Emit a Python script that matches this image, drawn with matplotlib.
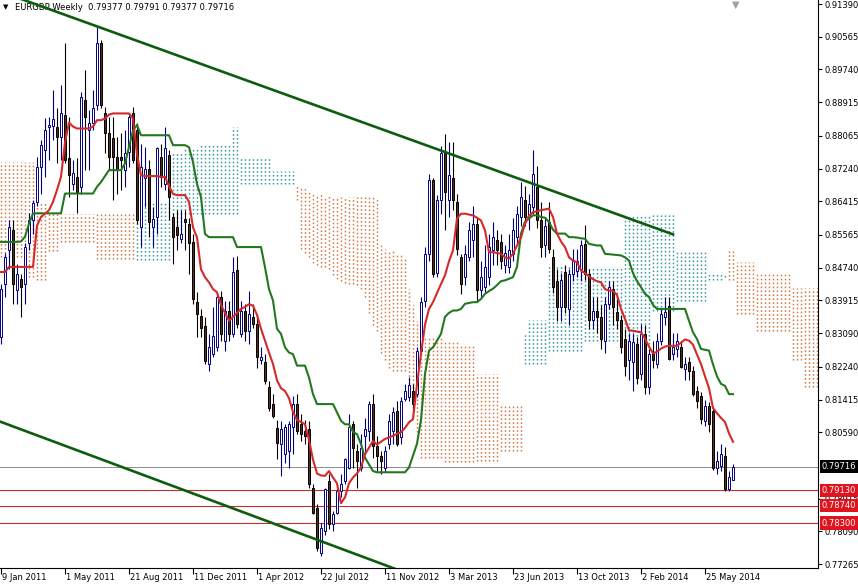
import numpy as np
import matplotlib
matplotlib.use('Agg')
import matplotlib.pyplot as plt

plt.rcParams['font.family'] = ['DejaVu Sans']

###################################################
# EURGBP weekly bars from 9 Jan 2011, prices in 1/10000
###################################################

opens = [8300, 8434, 8518, 8569, 8417, 8446, 8434, 8535, 8594, 8640,
         8729, 8771, 8828, 8831, 8829, 8804, 8860, 8750, 8686, 8703,
         8678, 8897, 8821, 8838, 8884, 9040, 8863, 8813, 8800, 8754,
         8754, 8720, 8766, 8863, 8821, 8577, 8699, 8724, 8577, 8602,
         8754, 8686, 8758, 8602, 8577, 8547, 8598, 8584, 8538, 8387,
         8353, 8328, 8231, 8256, 8273, 8399, 8290, 8366, 8307, 8467,
         8307, 8366, 8315, 8349, 8332, 8240, 8235, 8172, 8130, 8070,
         8029, 8004, 8012, 8071, 8130, 8079, 8062, 8067, 7919, 7869,
         7755, 7810, 7936, 7827, 7856, 7911, 7936, 7970, 8079, 8012,
         7970, 8050, 8062, 8130, 8025, 7999, 7970, 8029, 8062, 8113,
         8046, 8143, 8147, 8164, 8156, 8265, 8391, 8509, 8694, 8460,
         8644, 8762, 8644, 8699, 8640, 8500, 8450, 8500, 8543, 8585,
         8417, 8425, 8450, 8518, 8543, 8540, 8480, 8475, 8509, 8551,
         8601, 8644, 8601, 8627, 8678, 8593, 8530, 8590, 8500, 8440,
         8374, 8463, 8370, 8459, 8466, 8470, 8534, 8459, 8341, 8366,
         8350, 8290, 8383, 8421, 8362, 8341, 8294, 8240, 8235, 8282,
         8206, 8307, 8172, 8260, 8231, 8290, 8349, 8378, 8256, 8269,
         8273, 8218, 8235, 8214, 8164, 8151, 8088, 8126, 8113, 7970,
         7974, 8000, 7915, 7938]

highs = [8434, 8510, 8594, 8594, 8484, 8459, 8535, 8611, 8644, 8754,
         8796, 8851, 8855, 8922, 8876, 8935, 9040, 8855, 8745, 8750,
         8918, 8973, 8872, 8922, 9082, 9048, 8880, 8855, 8855, 8804,
         8813, 8821, 8863, 8880, 8838, 8787, 8779, 8745, 8627, 8779,
         8787, 8829, 8771, 8611, 8619, 8619, 8619, 8600, 8560, 8412,
         8370, 8349, 8307, 8374, 8408, 8416, 8391, 8391, 8500, 8504,
         8391, 8382, 8416, 8382, 8357, 8273, 8256, 8189, 8155, 8090,
         8088, 8079, 8088, 8150, 8155, 8104, 8090, 8088, 7928, 7877,
         7831, 7919, 7953, 7860, 7919, 7953, 7995, 8104, 8088, 8029,
         8054, 8096, 8138, 8155, 8050, 8012, 8025, 8105, 8122, 8139,
         8147, 8181, 8198, 8181, 8273, 8400, 8526, 8711, 8699, 8657,
         8780, 8812, 8791, 8791, 8660, 8509, 8530, 8590, 8630, 8600,
         8490, 8530, 8560, 8590, 8570, 8560, 8530, 8560, 8600, 8630,
         8690, 8680, 8660, 8770, 8730, 8640, 8600, 8640, 8520, 8470,
         8460, 8480, 8470, 8520, 8520, 8545, 8581, 8470, 8400, 8400,
         8380, 8400, 8440, 8440, 8400, 8355, 8320, 8310, 8310, 8300,
         8332, 8330, 8270, 8290, 8310, 8370, 8400, 8400, 8310, 8310,
         8290, 8250, 8250, 8225, 8175, 8160, 8140, 8135, 8120, 8012,
         8029, 8021, 7962, 7979]

lows = [8282, 8400, 8470, 8383, 8383, 8350, 8383, 8518, 8560, 8630,
        8661, 8703, 8745, 8796, 8737, 8745, 8737, 8653, 8670, 8611,
        8661, 8720, 8720, 8821, 8872, 8876, 8762, 8720, 8644, 8661,
        8670, 8678, 8729, 8737, 8585, 8526, 8627, 8552, 8526, 8560,
        8678, 8670, 8594, 8484, 8518, 8535, 8518, 8459, 8383, 8298,
        8298, 8231, 8214, 8248, 8265, 8290, 8265, 8290, 8298, 8323,
        8298, 8290, 8281, 8323, 8222, 8231, 8180, 8113, 8096, 7991,
        7949, 7982, 7970, 8004, 8054, 8037, 8030, 7919, 7852, 7759,
        7747, 7801, 7814, 7810, 7852, 7895, 7928, 7966, 7970, 7919,
        7962, 8012, 8037, 7995, 7960, 7953, 7958, 8016, 8029, 8025,
        8029, 8139, 8139, 8113, 8147, 8261, 8374, 8492, 8450, 8450,
        8610, 8570, 8602, 8619, 8505, 8408, 8430, 8490, 8500, 8390,
        8400, 8410, 8430, 8480, 8480, 8470, 8460, 8460, 8490, 8530,
        8580, 8580, 8570, 8610, 8575, 8500, 8500, 8510, 8410, 8340,
        8340, 8360, 8330, 8440, 8450, 8440, 8442, 8320, 8320, 8310,
        8270, 8260, 8370, 8330, 8320, 8260, 8200, 8190, 8164, 8180,
        8190, 8155, 8155, 8220, 8220, 8280, 8330, 8240, 8240, 8250,
        8220, 8190, 8190, 8150, 8120, 8080, 8075, 8060, 7965, 7953,
        7961, 7911, 7911, 7938]

closes = [8420, 8501, 8577, 8434, 8459, 8425, 8526, 8594, 8636, 8729,
          8783, 8821, 8834, 8849, 8804, 8863, 8745, 8707, 8712, 8665,
          8905, 8855, 8838, 8876, 9040, 8884, 8813, 8754, 8754, 8724,
          8745, 8762, 8855, 8745, 8594, 8729, 8724, 8590, 8598, 8775,
          8703, 8775, 8653, 8552, 8556, 8560, 8590, 8535, 8395, 8357,
          8323, 8239, 8273, 8302, 8399, 8307, 8366, 8307, 8462, 8332,
          8366, 8315, 8357, 8332, 8248, 8248, 8189, 8121, 8100, 8033,
          8067, 8071, 8079, 8130, 8062, 8054, 8050, 7928, 7856, 7768,
          7818, 7915, 7827, 7852, 7911, 7928, 7991, 8071, 8020, 7987,
          8020, 8067, 8130, 8025, 8000, 7987, 8012, 8088, 8109, 8029,
          8139, 8164, 8177, 8130, 8265, 8387, 8509, 8694, 8459, 8644,
          8762, 8665, 8707, 8644, 8520, 8433, 8509, 8568, 8585, 8417,
          8450, 8475, 8526, 8551, 8518, 8492, 8510, 8518, 8568, 8610,
          8652, 8601, 8635, 8711, 8593, 8526, 8580, 8522, 8425, 8374,
          8442, 8374, 8459, 8492, 8492, 8530, 8459, 8341, 8366, 8350,
          8294, 8383, 8425, 8375, 8341, 8273, 8227, 8290, 8286, 8197,
          8307, 8172, 8256, 8240, 8290, 8357, 8362, 8244, 8273, 8290,
          8223, 8231, 8214, 8155, 8139, 8092, 8126, 8080, 7970, 7987,
          8004, 7915, 7945, 7972]

# Ichimoku Tenkan-sen (red) and Kijun-sen (green)
tenkan = [8463, 8463, 8476, 8476, 8476, 8476, 8476, 8476, 8476, 8580,
          8602, 8610, 8619, 8640, 8670, 8703, 8790, 8840, 8830, 8825,
          8825, 8825, 8825, 8830, 8846, 8846, 8850, 8860, 8863, 8863,
          8863, 8863, 8863, 8850, 8760, 8707, 8705, 8705, 8705, 8705,
          8703, 8703, 8680, 8660, 8657, 8657, 8657, 8640, 8576, 8550,
          8470, 8450, 8437, 8420, 8412, 8380, 8360, 8340, 8350, 8360,
          8370, 8375, 8382, 8378, 8355, 8320, 8290, 8260, 8231, 8190,
          8170, 8163, 8145, 8110, 8090, 8085, 8079, 8040, 7990, 7955,
          7950, 7949, 7961, 7945, 7930, 7880, 7895, 7930, 7945, 7955,
          7970, 8003, 8020, 8037, 8028, 8035, 8042, 8046, 8050, 8055,
          8059, 8070, 8084, 8092, 8180, 8257, 8330, 8370, 8387, 8410,
          8433, 8455, 8490, 8518, 8598, 8610, 8610, 8608, 8606, 8600,
          8593, 8568, 8513, 8513, 8511, 8509, 8500, 8497, 8509, 8530,
          8550, 8585, 8605, 8614, 8616, 8619, 8621, 8623, 8602, 8560,
          8540, 8526, 8500, 8492, 8488, 8467, 8460, 8452, 8445, 8440,
          8437, 8420, 8416, 8416, 8405, 8370, 8345, 8316, 8315, 8313,
          8311, 8295, 8275, 8258, 8262, 8270, 8275, 8277, 8277, 8277,
          8285, 8293, 8290, 8280, 8255, 8231, 8200, 8170, 8120, 8107,
          8095, 8085, 8056, 8035]

kijun = [8539, 8539, 8539, 8539, 8539, 8540, 8552, 8585, 8611, 8611,
         8611, 8611, 8611, 8611, 8611, 8611, 8661, 8661, 8661, 8661,
         8661, 8661, 8661, 8661, 8678, 8690, 8705, 8720, 8720, 8720,
         8720, 8737, 8779, 8820, 8834, 8808, 8808, 8808, 8808, 8808,
         8808, 8808, 8808, 8783, 8783, 8783, 8783, 8778, 8740, 8685,
         8652, 8559, 8551, 8551, 8551, 8551, 8551, 8551, 8551, 8526,
         8526, 8526, 8526, 8526, 8526, 8526, 8475, 8420, 8391, 8320,
         8307, 8273, 8260, 8256, 8227, 8227, 8227, 8197, 8155, 8130,
         8130, 8130, 8130, 8130, 8109, 8088, 8079, 8079, 8060, 8054,
         8029, 7995, 7978, 7961, 7958, 7958, 7958, 7958, 7958, 7958,
         7958, 7958, 7970, 8000, 8030, 8090, 8206, 8265, 8273, 8290,
         8307, 8350, 8360, 8366, 8366, 8370, 8383, 8385, 8387, 8387,
         8395, 8408, 8415, 8421, 8430, 8440, 8442, 8446, 8450, 8476,
         8560, 8590, 8598, 8606, 8606, 8602, 8600, 8589, 8570, 8560,
         8560, 8560, 8551, 8551, 8550, 8548, 8547, 8534, 8532, 8530,
         8530, 8509, 8508, 8507, 8506, 8505, 8500, 8492, 8460, 8440,
         8425, 8408, 8400, 8380, 8370, 8370, 8370, 8370, 8370, 8370,
         8370, 8370, 8340, 8311, 8294, 8269, 8267, 8265, 8230, 8200,
         8181, 8176, 8155, 8155]

# Senkou spans (cloud), run 26 weeks past the last bar
span_a = [8500, 8500, 8500, 8500, 8500, 8500, 8450, 8450, 8450, 8442,
          8442, 8442, 8515, 8515, 8515, 8540, 8540, 8540, 8540, 8540,
          8540, 8540, 8540, 8540, 8495, 8495, 8495, 8495, 8495, 8495,
          8495, 8495, 8495, 8495, 8640, 8640, 8640, 8640, 8640, 8640,
          8640, 8640, 8640, 8762, 8762, 8762, 8778, 8778, 8778, 8778,
          8787, 8787, 8787, 8787, 8787, 8787, 8787, 8787, 8829, 8829,
          8753, 8753, 8753, 8753, 8753, 8753, 8753, 8753, 8719, 8719,
          8719, 8719, 8719, 8719, 8644, 8520, 8510, 8500, 8485, 8480,
          8475, 8475, 8470, 8455, 8445, 8440, 8435, 8433, 8433, 8430,
          8420, 8400, 8360, 8330, 8315, 8260, 8240, 8220, 8214, 8214,
          8214, 8214, 8150, 8100, 8060, 7995, 7995, 7995, 7995, 7995,
          7995, 7985, 7985, 7985, 7985, 7985, 7985, 7985, 7985, 7987,
          7987, 7987, 7987, 7987, 7987, 8012, 8012, 8012, 8012, 8012,
          8012, 8307, 8341, 8341, 8341, 8341, 8341, 8480, 8480, 8480,
          8480, 8480, 8480, 8480, 8480, 8480, 8475, 8475, 8475, 8475,
          8475, 8475, 8475, 8475, 8475, 8475, 8610, 8610, 8610, 8610,
          8610, 8610, 8610, 8610, 8610, 8610, 8610, 8610, 8610, 8517,
          8517, 8517, 8517, 8517, 8517, 8517, 8517, 8463, 8463, 8463,
          8463, 8455, 8442, 8442, 8358, 8358, 8358, 8358, 8358, 8315,
          8315, 8315, 8315, 8315, 8315, 8315, 8315, 8315, 8240, 8240,
          8240, 8172, 8172, 8172, 8172]

span_b = [8740, 8740, 8740, 8740, 8740, 8740, 8740, 8740, 8740, 8640,
          8640, 8640, 8610, 8610, 8610, 8610, 8610, 8610, 8610, 8610,
          8610, 8610, 8610, 8610, 8610, 8610, 8610, 8610, 8610, 8610,
          8610, 8610, 8610, 8610, 8493, 8493, 8493, 8493, 8493, 8493,
          8493, 8493, 8493, 8560, 8560, 8560, 8610, 8610, 8610, 8610,
          8610, 8610, 8610, 8610, 8610, 8610, 8610, 8610, 8610, 8610,
          8685, 8685, 8685, 8685, 8685, 8685, 8685, 8685, 8685, 8685,
          8685, 8685, 8685, 8685, 8681, 8677, 8677, 8670, 8660, 8660,
          8660, 8655, 8655, 8652, 8652, 8652, 8652, 8652, 8652, 8652,
          8652, 8652, 8652, 8652, 8652, 8530, 8520, 8518, 8518, 8510,
          8505, 8500, 8420, 8380, 8340, 8300, 8300, 8300, 8300, 8300,
          8300, 8290, 8290, 8290, 8290, 8280, 8280, 8280, 8280, 8206,
          8206, 8206, 8206, 8206, 8206, 8130, 8130, 8130, 8130, 8130,
          8130, 8231, 8231, 8231, 8231, 8231, 8231, 8265, 8265, 8265,
          8265, 8265, 8265, 8265, 8265, 8265, 8290, 8290, 8290, 8290,
          8290, 8290, 8290, 8290, 8290, 8290, 8282, 8282, 8282, 8282,
          8282, 8282, 8282, 8366, 8366, 8366, 8366, 8366, 8366, 8391,
          8391, 8391, 8391, 8391, 8391, 8391, 8391, 8442, 8442, 8442,
          8442, 8450, 8517, 8517, 8488, 8488, 8488, 8488, 8488, 8463,
          8463, 8463, 8463, 8463, 8463, 8463, 8463, 8463, 8424, 8424,
          8424, 8424, 8424, 8424, 8424]

date_labels = ['9 Jan 2011', '1 May 2011', '21 Aug 2011', '11 Dec 2011',
               '1 Apr 2012', '22 Jul 2012', '11 Nov 2012', '3 Mar 2013',
               '23 Jun 2013', '13 Oct 2013', '2 Feb 2014', '25 May 2014']

price_ticks = [0.91390, 0.90565, 0.89740, 0.88915, 0.88065, 0.87240,
               0.86415, 0.85565, 0.84740, 0.83915, 0.83090, 0.82240,
               0.81415, 0.80590, 0.78915, 0.78090, 0.77265]

last_price = 0.79716
levels = [0.79130, 0.78740, 0.78300]

# hand drawn trend lines (week index, price)
upper_trend = ([0, 168], [0.9170, 0.8558])
lower_trend = ([0, 100], [0.8085, 0.7709])

title = 'EURGBP,Weekly  0.79377 0.79791 0.79377 0.79716'

###################################################

o = np.array(opens) / 1e4
h = np.array(highs) / 1e4
l = np.array(lows) / 1e4
c = np.array(closes) / 1e4
x = np.arange(len(c))

W, H = 858, 585
fig = plt.figure(figsize=(W / 100, H / 100), dpi=100)
ax = fig.add_axes([0, 17 / H, 818 / W, 568 / H])
ax.set_xlim(-0.25, 204.25)
ax.set_ylim(0.77166, 0.91491)

#cloud as dotted columns
sa = np.array(span_a) / 1e4
sb = np.array(span_b) / 1e4
kc = np.arange(len(sa))
bull = sa > sb
for m, ya, yb, col in [(bull, sb, sa, '#3a98a4'), (~bull, sa, sb, '#d07a45')]:
    for k, y0, y1 in zip(kc[m], ya[m], yb[m]):
        ax.plot([k, k], [y0, y1], color=col, lw=1.05,
                dashes=(1.1, 1.6), zorder=1)

#horizontal levels
ax.axhline(last_price, color='#8c8c8c', lw=0.7, zorder=1.5)
for v in levels:
    ax.axhline(v, color='#c03030', lw=0.8, zorder=1.5)

#candles
up = c >= o
ax.vlines(x[up], l[up], h[up], color='#000080', lw=0.8, zorder=2)
ax.vlines(x[~up], l[~up], h[~up], color='black', lw=0.8, zorder=2)
ax.bar(x[up], (c - o)[up], bottom=o[up], width=0.65, color='white',
       edgecolor='#000080', linewidth=0.7, zorder=2.1)
ax.bar(x[~up], (o - c)[~up], bottom=c[~up], width=0.65, color='#5b2b1e',
       edgecolor='black', linewidth=0.7, zorder=2.1)

#indicator lines
ax.plot(x, np.array(kijun) / 1e4, color='#23781f', lw=1.5, zorder=3)
ax.plot(x, np.array(tenkan) / 1e4, color='#d42a2a', lw=1.5, zorder=3.1)

#trend lines
ax.plot(upper_trend[0], upper_trend[1], color='#0e5c0e', lw=1.9, zorder=4)
ax.plot(lower_trend[0], lower_trend[1], color='#0e5c0e', lw=1.9, zorder=4)

#frame
for s in ['left', 'top']:
    ax.spines[s].set_visible(False)
for s in ['right', 'bottom']:
    ax.spines[s].set_linewidth(0.8)

ax.yaxis.tick_right()
ax.set_yticks(price_ticks)
ax.set_yticklabels(['%.5f' % v for v in price_ticks])
ax.tick_params(axis='y', direction='out', length=3, width=0.8, pad=2,
               labelsize=6)

ax.set_xticks(range(0, len(c), 16))
ax.set_xticklabels([])
ax.tick_params(axis='x', direction='out', length=4, width=0.8)
for i, lab in zip(range(0, len(c), 16), date_labels):
    ax.text(i + 0.3, -9 / 568, lab, transform=ax.get_xaxis_transform(),
            fontsize=6, ha='left', va='center', clip_on=False)

#price boxes on the right scale
def price_box(v, fc):
    ax.text(1 + 4 / 818, v, '%.5f' % v, transform=ax.get_yaxis_transform(),
            fontsize=6, color='white', ha='left', va='center',
            bbox=dict(boxstyle='square,pad=0.25', fc=fc, ec='none'),
            clip_on=False, zorder=6)

price_box(last_price, 'black')
for v in levels:
    price_box(v, '#e0141e')

#header
ax.text(3 / 818, 1 - 7 / 568, '\u25bc', transform=ax.transAxes, fontsize=5,
        va='center', ha='left')
ax.text(15 / 818, 1 - 7 / 568, title, transform=ax.transAxes, fontsize=6,
        va='center', ha='left')
ax.text(len(c) - 0.3, 1, '\u25bc', transform=ax.get_xaxis_transform(),
        color='#a0a0a0', fontsize=7, ha='center', va='top')

fig.savefig('out.png', dpi=100)
